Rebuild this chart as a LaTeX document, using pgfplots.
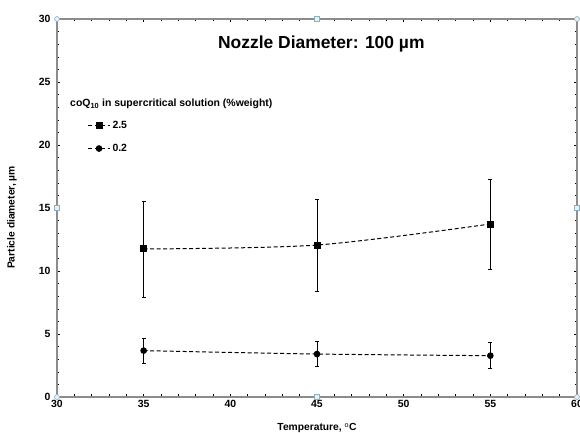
\documentclass[border=0pt]{standalone}
\usepackage{pgfplots}
\pgfplotsset{compat=1.18}
\usepackage{fontspec}
\setmainfont{Liberation Sans}
\usetikzlibrary{calc}
\definecolor{axgray}{HTML}{8C8C8C}
\definecolor{hdlfill}{HTML}{E4F1F7}
\definecolor{hdldraw}{HTML}{8FAFC0}

\begin{document}
\begin{tikzpicture}
\begin{axis}[
    name=ax,
    scale only axis,
    width=520bp, height=378bp,
    xmin=30, xmax=60, ymin=0, ymax=30,
    xtick={30,35,...,60}, ytick={0,5,...,30},
    minor x tick num=4, minor y tick num=4,
    tick align=inside,
    major tick length=3bp, minor tick length=2.5bp,
    tick style={black, line width=0.5pt},
    axis line style={axgray, line width=1.1pt},
    /pgf/number format/assume math mode=true,
    ticklabel style={font=\fontsize{10.5}{12}\selectfont\bfseries},
    yticklabel style={xshift=-3bp},
    xlabel={Temperature, $^{\mathrm{o}}$C},
    ylabel={Particle diameter, \textmu m},
    label style={font=\fontsize{10.3}{12}\selectfont\bfseries},
    xlabel style={at={(axis description cs:0.5,-0.082)}, anchor=center},
    ylabel style={at={(axis description cs:-0.0865,0.475)}, anchor=center, rotate=0},
    clip=false,
    cycle list={{black}},
    legend style={draw=none, fill=none, at={(axis cs:31.75,22.05)}, anchor=north west,
        font=\fontsize{10.5}{12}\selectfont\bfseries, row sep=10bp,
        inner sep=0pt, nodes={inner sep=2pt}},
    legend image code/.code={
        \draw[mark repeat=2,mark phase=2,#1] plot coordinates {(0bp,0bp) (11bp,0bp) (22bp,0bp)};},
]
\addplot[black, line width=1pt, smooth, dash pattern=on 4bp off 2.5bp, mark=square*, mark size=3bp,
    mark options={solid, fill=black},
    error bars/.cd, y dir=both, y explicit,
    error bar style={solid, line width=0.5pt},
    error mark options={rotate=90, mark size=2bp, line width=0.5pt}]
coordinates {
(35,11.75) +- (0,3.80)
(45,12.06) +- (0,3.63)
(55,13.73) +- (0,3.57)
};
\addlegendentry{2.5}
\addplot[black, line width=1pt, smooth, dash pattern=on 4bp off 2.5bp, mark=*, mark size=2.8bp,
    mark options={solid, fill=black},
    error bars/.cd, y dir=both, y explicit,
    error bar style={solid, line width=0.5pt},
    error mark options={rotate=90, mark size=2bp, line width=0.5pt}]
coordinates {
(35,3.68) +- (0,0.97)
(45,3.41) +- (0,1.00)
(55,3.28) +- (0,1.03)
};
\addlegendentry{0.2}
\node[font=\fontsize{17.5}{20}\selectfont\bfseries] at (axis cs:45.25,28.0) {Nozzle Diameter: 100 \textmu m};
\node[anchor=west, font=\fontsize{10.5}{12}\selectfont\bfseries, inner sep=0pt] at (axis cs:30.75,23.25)
    {coQ\textsubscript{10} in supercritical solution (\%weight)};
\end{axis}
\foreach \a in {north west, north east, south west, south east}
    \node[circle, draw=hdldraw, fill=hdlfill, inner sep=0pt, minimum size=5bp, line width=0.6pt] at (ax.\a) {};
\foreach \a in {north, south, west, east}
    \node[rectangle, draw=hdldraw, fill=hdlfill, inner sep=0pt, minimum size=4.5bp, line width=0.6pt] at (ax.\a) {};
\pgfresetboundingbox
\path[use as bounding box] ($(ax.south west)+(-57bp,-36bp)$) rectangle ($(ax.north east)+(3bp,19bp)$);
\end{tikzpicture}
\end{document}
